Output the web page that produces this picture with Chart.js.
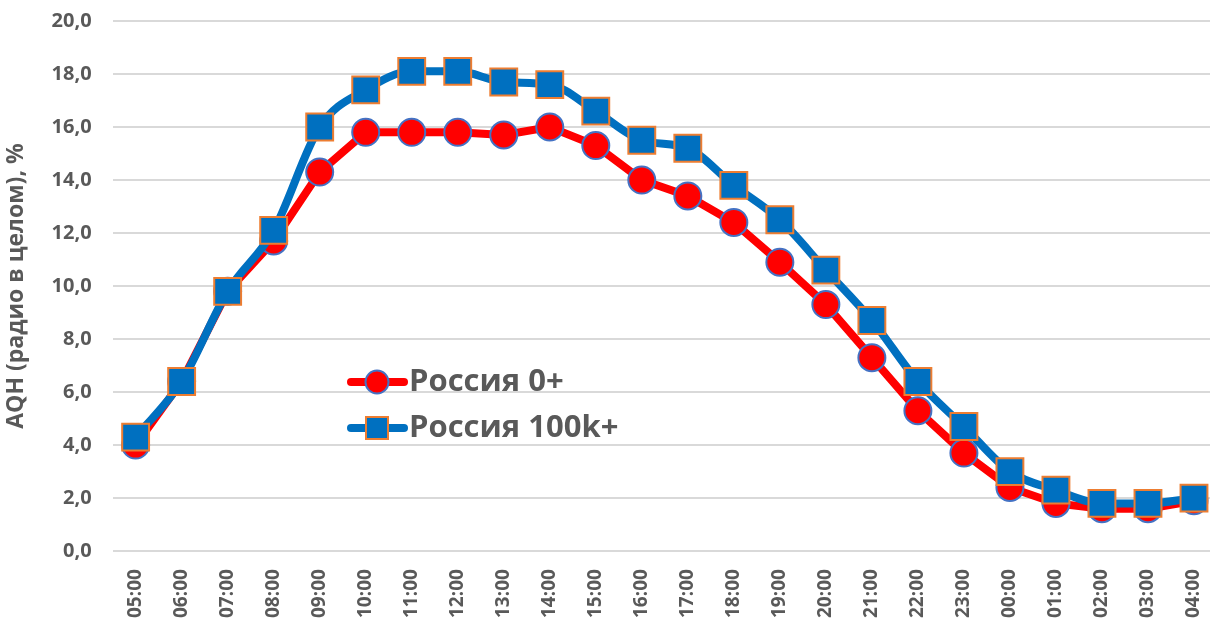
<!DOCTYPE html>
<html>
<head>
<meta charset="utf-8">
<script src="https://cdn.jsdelivr.net/npm/chart.js@4.4.0/dist/chart.umd.min.js"></script>
<style>
  html, body { margin: 0; padding: 0; background: #fff; overflow: hidden; }
  #wrap { position: relative; top: -12px; width: 1238px; height: 633px; }
</style>
</head>
<body>
<div id="wrap"><canvas id="myChart"></canvas></div>
<script>
var hours = ["05:00","06:00","07:00","08:00","09:00","10:00","11:00","12:00","13:00","14:00","15:00","16:00",
  "17:00","18:00","19:00","20:00","21:00","22:00","23:00","00:00","01:00","02:00","03:00","04:00"];
var russiaAll = [4.0, 6.4, 9.8, 11.7, 14.3, 15.8, 15.8, 15.8, 15.7, 16.0, 15.3, 14.0,
  13.4, 12.4, 10.9, 9.3, 7.3, 5.3, 3.7, 2.4, 1.8, 1.6, 1.6, 1.9];
var russia100k = [4.3, 6.4, 9.8, 12.1, 16.0, 17.4, 18.1, 18.1, 17.7, 17.6, 16.6, 15.5,
  15.2, 13.8, 12.5, 10.6, 8.7, 6.4, 4.7, 3.0, 2.3, 1.8, 1.8, 2.0];
var seriesNames = ["Россия 0+", "Россия 100k+"];

var textColor = "#595959";
var fontName = "'Open Sans', 'Liberation Sans', sans-serif";

// legend sits inside the plot, like in the excel chart (canvas is shifted 12px up)
var insideLegend = {
  id: "insideLegend",
  afterDraw: function(chart) {
    var ctx = chart.ctx;
    var items = [
      { y: 394, line: "#FF0000", fill: "#FF0000", border: "#4472C4", style: "circle" },
      { y: 440, line: "#0070C0", fill: "#0070C0", border: "#ED7D31", style: "rect" }
    ];
    ctx.save();
    items.forEach(function(it, i) {
      ctx.strokeStyle = it.line;
      ctx.lineWidth = 8;
      ctx.lineCap = "round";
      ctx.beginPath();
      ctx.moveTo(351, it.y);
      ctx.lineTo(404, it.y);
      ctx.stroke();
      ctx.fillStyle = it.fill;
      ctx.strokeStyle = it.border;
      ctx.lineWidth = 2;
      ctx.beginPath();
      if (it.style == "circle") {
        ctx.arc(377, it.y, 11.5, 0, Math.PI * 2);
      } else {
        ctx.rect(366, it.y - 11, 22, 22);
      }
      ctx.fill();
      ctx.stroke();
      ctx.fillStyle = textColor;
      ctx.font = "bold 31px " + fontName;
      ctx.textBaseline = "middle";
      ctx.textAlign = "left";
      ctx.fillText(seriesNames[i], 409, it.y);
    });
    ctx.restore();
  }
};

new Chart("myChart", {
  type: "line",
  data: {
    labels: hours,
    datasets: [{
      label: seriesNames[1],
      data: russia100k,
      borderColor: "#0070C0",
      borderWidth: 8,
      backgroundColor: "#0070C0",
      pointStyle: "rect",
      pointRadius: 19,
      pointHoverRadius: 19,
      pointBorderColor: "#ED7D31",
      pointBorderWidth: 2,
      cubicInterpolationMode: "monotone",
      tension: 0.4,
      order: 0
    }, {
      label: seriesNames[0],
      data: russiaAll,
      borderColor: "#FF0000",
      borderWidth: 8,
      backgroundColor: "#FF0000",
      pointStyle: "circle",
      pointRadius: 13.5,
      pointHoverRadius: 13.5,
      pointBorderColor: "#4472C4",
      pointBorderWidth: 2,
      tension: 0,
      order: 1
    }]
  },
  options: {
    responsive: true,
    maintainAspectRatio: false,
    animation: false,
    layout: { padding: { top: 0, left: 0, right: 0, bottom: -7 } },
    plugins: {
      legend: { display: false },
      tooltip: { enabled: false }
    },
    scales: {
      x: {
        offset: true,
        grid: { display: false },
        border: { display: false },
        ticks: {
          color: textColor,
          font: { family: fontName, size: 19, weight: "bold" },
          maxRotation: 90,
          minRotation: 90,
          autoSkip: false,
          padding: 10
        }
      },
      y: {
        min: 0,
        max: 20,
        border: { display: false },
        grid: { color: "#D9D9D9", lineWidth: 2, drawTicks: false },
        ticks: {
          stepSize: 2,
          color: textColor,
          padding: 21,
          font: { family: fontName, size: 20, weight: "bold" },
          callback: function(v) { return v.toFixed(1).replace(".", ","); }
        },
        title: {
          display: true,
          text: "AQH (радио в целом), %",
          color: textColor,
          font: { family: fontName, size: 23, weight: "bold" },
          padding: { top: 3, bottom: 0 }
        }
      }
    }
  },
  plugins: [insideLegend]
});
</script>
</body>
</html>
